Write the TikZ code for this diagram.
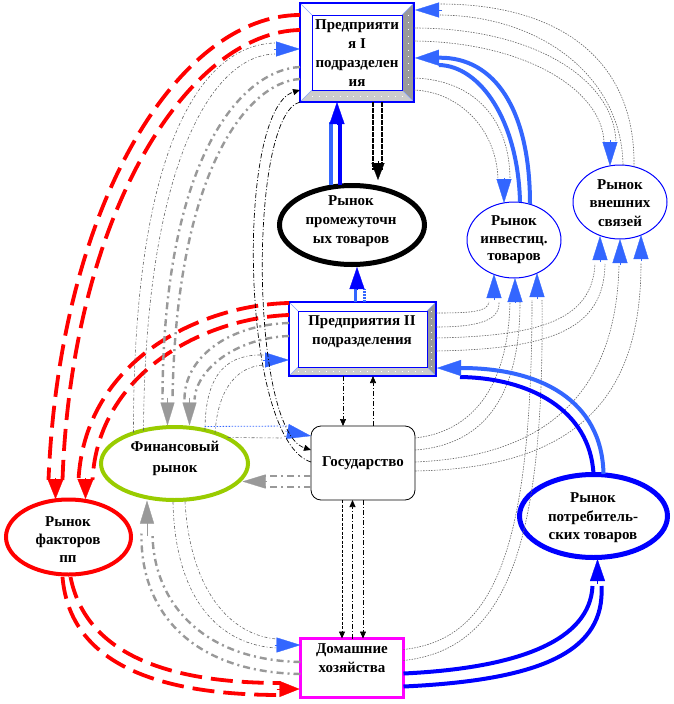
\documentclass[tikz,border=0pt]{standalone}
\usepackage{fontspec}
\setmainfont{Liberation Serif}
\usetikzlibrary{arrows.meta,calc,shapes.geometric}
\definecolor{cbl}{HTML}{3366FF}
\definecolor{cdbl}{HTML}{0000FF}
\definecolor{crd}{HTML}{FF0000}
\definecolor{cgr}{HTML}{999999}
\definecolor{cdg}{HTML}{666666}
\definecolor{cgrn}{HTML}{99CC00}
\definecolor{cmag}{HTML}{FF00FF}
\definecolor{cbev}{HTML}{999999}
\definecolor{cbevb}{HTML}{CCCCCC}
\newcommand\mybevel[2]{%
 \fill[white] (#1.north west) -- (#1.north east) -- ($(#1.north east)+(-#2,#2)$) -- ($(#1.north west)+(#2,#2)$) -- cycle;
 \fill[cbev] (#1.north east) -- (#1.south east) -- ($(#1.south east)+(-#2,-#2)$) -- ($(#1.north east)+(-#2,#2)$) -- cycle;
 \fill[cbevb] (#1.south west) -- (#1.south east) -- ($(#1.south east)+(-#2,-#2)$) -- ($(#1.south west)+(#2,-#2)$) -- cycle;
 \draw[white, line width=.9pt, dash pattern=on .9pt off 6pt] ($(#1.south west)+(#2,-#2/2)$) -- ($(#1.south east)+(-#2,-#2/2)$);
 \draw[white, line width=.9pt, dash pattern=on .9pt off 6pt] ($(#1.north east)+(-#2/2,#2)$) -- ($(#1.south east)+(-#2/2,-#2)$);
 \draw[cbl!60, line width=.5pt] (#1.north west) -- ($(#1.north west)+(#2,#2)$) (#1.north east) -- ($(#1.north east)+(-#2,#2)$) (#1.south west) -- ($(#1.south west)+(#2,-#2)$) (#1.south east) -- ($(#1.south east)+(-#2,-#2)$);
 \draw[cdbl, line width=1pt] ($(#1.north west)+(#2,#2)$) rectangle ($(#1.south east)+(-#2,-#2)$);
 \draw[cdbl, line width=1.2pt] (#1.north west) rectangle (#1.south east);
}
\tikzset{
 pbox/.style={rectangle, draw=cdbl, line width=1pt, inner sep=0pt, outer sep=0pt, fill=white},
 ellp/.style={ellipse, inner sep=0pt, outer sep=0pt},
 lbl/.style={font=\bfseries\fontsize{15}{19}\selectfont, align=center, inner sep=0pt},
 thinln/.style={draw=cdg, line width=0.6pt, dash pattern=on 1.5pt off 1.2pt},
 tdd/.style={draw=cdg, line width=0.6pt, dash pattern=on 3pt off 2pt on 1pt off 2pt},
 gthick/.style={draw=cgr, line width=2.4pt, dash pattern=on 7pt off 4pt on 2pt off 4pt},
 rdash/.style={draw=crd, line width=3.8pt, dash pattern=on 22pt off 9pt},
 bdd/.style={draw=black, line width=0.7pt, dash pattern=on 5pt off 2pt on 1pt off 2pt},
 bdash/.style={draw=black, line width=0.8pt, dash pattern=on 3pt off 1.5pt},
 bthick/.style={draw=black, line width=1.6pt, dash pattern=on 5pt off 1pt},
 stip/.style={-{Triangle[length=7pt,width=6pt]}},
 hbl/.style={draw=cbl, line width=.3pt, -{Triangle[length=24pt,width=15pt,line width=.3pt]}},
 hdbl/.style={draw=cdbl, line width=.3pt, -{Triangle[length=22pt,width=15pt,line width=.3pt]}},
 hrd/.style={draw=crd, line width=.3pt, -{Triangle[length=20pt,width=16pt,line width=.3pt]}},
 hgr/.style={draw=cgr, line width=.3pt, -{Triangle[length=23pt,width=14pt,line width=.3pt]}},
 hblk/.style={draw=black, line width=.3pt, -{Triangle[length=17pt,width=13pt,line width=.3pt]}},
 lbthick/.style={draw=cbl, line width=4pt},
 dbthick/.style={draw=cdbl, line width=4pt},
}
\begin{document}
\begin{tikzpicture}[x=1pt,y=-1pt]
\useasboundingbox (0,0) rectangle (673,704);
\fill[white] (0,0) rectangle (673,704);
% ---------- nodes ----------
\node[pbox, minimum width=114pt, minimum height=99pt] (P1) at (357,52.5) {};
\mybevel{P1}{12}
\node[lbl] (P1t) at (357,53) {Предприяти\\я I\\подразделен\\ия};
\node[pbox, minimum width=147pt, minimum height=74pt] (P2) at (362.5,339) {};
\mybevel{P2}{9}
\node[lbl] (P2t) at (362,332) {Предприятия II\\подразделения};
\node[ellp, draw=black, line width=5pt, minimum width=145pt, minimum height=79pt] (M) at (352,225) {};
\node[lbl] (Mt) at (351,221) {Рынок\\промежуточн\\ых товаров};
\node[ellp, draw=cdbl, line width=1pt, minimum width=94pt, minimum height=76pt] (I) at (514,240) {};
\node[lbl, font=\bfseries\fontsize{15}{17.5}\selectfont] (It) at (514,240) {Рынок\\инвестиц.\\товаров};
\node[ellp, draw=cdbl, line width=1pt, minimum width=94pt, minimum height=74pt] (E) at (620,202) {};
\node[lbl, font=\bfseries\fontsize{15}{18.5}\selectfont] (Et) at (620,203) {Рынок\\внешних\\связей};
\node[ellp, draw=cgrn, line width=4pt, minimum width=147pt, minimum height=73pt] (F) at (174.5,463.5) {};
\node[lbl, font=\bfseries\fontsize{15}{21}\selectfont] (Ft) at (175,458) {Финансовый\\рынок};
\node[rectangle, rounded corners=10pt, draw=black, line width=.8pt, fill=white, inner sep=0pt, outer sep=0pt, minimum width=104pt, minimum height=74pt] (G) at (363,463) {};
\node[lbl] (Gt) at (363,463) {Государство};
\node[ellp, draw=crd, line width=4pt, minimum width=125pt, minimum height=75pt] (R) at (68.5,537) {};
\node[lbl, font=\bfseries\fontsize{15}{18}\selectfont] (Rt) at (68,540) {Рынок\\факторов\\пп};
\node[ellp, draw=cdbl, line width=5pt, minimum width=148pt, minimum height=83pt] (C) at (593.5,516) {};
\node[lbl, font=\bfseries\fontsize{15}{18.5}\selectfont] (Ct) at (593,518) {Рынок\\потребитель-\\ских товаров};
\node[rectangle, draw=cmag, line width=3pt, fill=white, inner sep=0pt, outer sep=0pt, minimum width=103pt, minimum height=59pt] (H) at (352,668) {};
\node[lbl] (Ht) at (352,658) {Домашние\\хозяйства};
% ---------- P1 <-> M ----------
\draw[bthick] ($(P1.south west)+(73,0)$) -- ($(M.center)+(21,-55)$);
\draw[bthick] ($(P1.south west)+(82,0)$) -- ($(M.center)+(30,-55)$);
\draw[hblk] ($(M.center)+(26,-64)$) -- ($(M.center)+(26,-45)$);
\draw[lbthick] ($(M.center)+(-21,-40)$) -- ($(P1.south west)+(31,20)$);
\draw[dbthick] ($(M.center)+(-12,-40)$) -- ($(P1.south west)+(40,20)$);
\draw[hdbl] ($(P1.south west)+(37,23)$) -- ($(P1.south west)+(37,0)$);
% ---------- P2 -> M ----------
\draw[draw=cbl, line width=3pt] ($(P2.north west)+(66,0)$) -- ($(M.center)+(3,64)$);
\draw[draw=cbl, line width=3pt, dash pattern=on 2pt off 1pt] ($(P2.north west)+(75,0)$) -- ($(M.center)+(12,64)$);
\draw[hdbl] ($(M.center)+(5,65)$) -- ($(M.center)+(5,42)$);
% ---------- I -> P1 (thick light blue) ----------
\draw[lbthick, -{Triangle[length=24pt,width=16pt,line width=.3pt]}] ($(I.center)+(16,-36)$) .. controls (530,110) and (495,57) .. ($(P1.north east)+(1,55)$);
\draw[lbthick] ($(I.center)+(6,-38)$) .. controls (518,120) and (480,66) .. ($(P1.north east)+(25,62)$);
% ---------- P1 -> I (thin) ----------
\draw[thinln] ($(P1.north east)+(0,75)$) .. controls (475,80) and (510,120) .. ($(I.center)+(-4,-60)$);
\draw[thinln] ($(P1.north east)+(0,87)$) .. controls (460,92) and (497,130) .. ($(I.center)+(-16,-60)$);
\draw[hbl] ($(I.center)+(-10,-62)$) -- ($(I.center)+(-10,-37)$);
% ---------- P1 -> E (thin) ----------
\draw[thinln] ($(P1.north east)+(0,25)$) .. controls (535,28) and (614,80) .. ($(E.center)+(-4,-60)$);
\draw[thinln] ($(P1.north east)+(0,38)$) .. controls (525,42) and (602,90) .. ($(E.center)+(-16,-60)$);
\draw[hbl] ($(E.center)+(-10,-62)$) -- ($(E.center)+(-10,-36)$);
% ---------- E -> P1 (thin) ----------
\draw[thinln] ($(E.center)+(3,-37)$) .. controls (622,80) and (545,16) .. ($(P1.north east)+(26,12)$);
\draw[thinln] ($(E.center)+(14,-35)$) .. controls (636,60) and (560,4) .. ($(P1.north east)+(26,1)$);
\draw[hbl] ($(P1.north east)+(28,7)$) -- ($(P1.north east)+(1,7)$);
% ---------- to I bottom ----------
\draw[thinln] ($(P2.north east)+(0,11)$) .. controls (470,313) and (488,312) .. ($(I.center)+(-25,62)$);
\draw[thinln] ($(P2.north east)+(0,25)$) .. controls (480,327) and (500,320) .. ($(I.center)+(-15,62)$);
\draw[hbl] ($(I.center)+(-20,60)$) -- ($(I.center)+(-20,34)$);
\draw[thinln] ($(G.north east)+(0,12)$) .. controls (470,432) and (508,390) .. ($(I.center)+(-4,62)$);
\draw[thinln] ($(G.north east)+(0,24)$) .. controls (485,445) and (520,395) .. ($(I.center)+(6,62)$);
\draw[hbl] ($(I.center)+(1,62)$) -- ($(I.center)+(1,38)$);
\draw[thinln] ($(H.north east)+(0,11)$) .. controls (490,640) and (532,560) .. ($(I.center)+(18,60)$);
\draw[thinln] ($(H.north east)+(0,22)$) .. controls (500,650) and (545,560) .. ($(I.center)+(28,60)$);
\draw[hbl] ($(I.center)+(23,59)$) -- ($(I.center)+(23,33)$);
% ---------- to E bottom ----------
\draw[thinln] ($(P2.north east)+(0,36)$) .. controls (540,336) and (592,320) .. ($(E.center)+(-25,62)$);
\draw[thinln] ($(P2.north east)+(0,49)$) .. controls (550,349) and (604,330) .. ($(E.center)+(-15,62)$);
\draw[hbl] ($(E.center)+(-20,60)$) -- ($(E.center)+(-20,34)$);
\draw[thinln] ($(G.north east)+(0,36)$) .. controls (560,456) and (616,380) .. ($(E.center)+(-1,64)$);
\draw[hbl] ($(E.center)+(0,63)$) -- ($(E.center)+(0,37)$);
\draw[thinln] ($(G.north east)+(0,45)$) .. controls (585,468) and (641,390) .. ($(E.center)+(21,61)$);
\draw[hbl] ($(E.center)+(21,59)$) -- ($(E.center)+(21,33)$);
% ---------- C -> P2 ----------
\draw[dbthick] ($(C.center)+(0,-42)$) .. controls (590,410) and (530,378) .. ($(P2.south east)+(24,1)$);
\draw[lbthick, -{Triangle[length=24pt,width=16pt,line width=.3pt]}] ($(C.center)+(10,-42)$) .. controls (602,400) and (540,368) .. ($(P2.south east)+(1,-8)$);
% ---------- H -> C ----------
\draw[dbthick] ($(H.north east)+(0,35)$) .. controls (520,668) and (590,640) .. ($(C.center)+(-1,70)$);
\draw[dbthick] ($(H.north east)+(0,48)$) .. controls (545,680) and (605,650) .. ($(C.center)+(8,70)$);
\draw[hdbl] ($(C.center)+(4,68)$) -- ($(C.center)+(4,43)$);
% ---------- red ----------
\draw[rdash] ($(P1.north west)+(0,12)$) .. controls (180,15) and (60,200) .. ($(R.center)+(-20,-57)$);
\draw[rdash] ($(P1.north west)+(0,27)$) .. controls (190,32) and (72,210) .. ($(R.center)+(-6,-57)$);
\draw[hrd] ($(R.center)+(-13,-59)$) -- ($(R.center)+(-13,-38)$);
\draw[rdash] ($(P2.north west)+(0,1)$) .. controls (200,305) and (85,360) .. ($(R.center)+(10,-57)$);
\draw[rdash] ($(P2.north west)+(0,13)$) .. controls (205,318) and (98,372) .. ($(R.center)+(24,-57)$);
\draw[hrd] ($(R.center)+(17,-59)$) -- ($(R.center)+(17,-38)$);
\draw[rdash] ($(R.center)+(-6,40)$) .. controls (70,665) and (160,695) .. ($(H.west)+(-20,27)$);
\draw[rdash] ($(R.center)+(2,40)$) .. controls (85,650) and (160,683) .. ($(H.west)+(-20,15)$);
\draw[hrd] ($(H.west)+(-24,21)$) -- ($(H.west)+(-1,21)$);
% ---------- gray thick to F top ----------
\draw[gthick] ($(P1.north west)+(0,64)$) .. controls (240,70) and (163,160) .. ($(F.center)+(-12,-64)$);
\draw[gthick] ($(P1.north west)+(0,76)$) .. controls (248,82) and (176,170) .. ($(F.center)+(-2,-64)$);
\draw[hgr] ($(F.center)+(-7,-66)$) -- ($(F.center)+(-7,-38)$);
\draw[gthick] ($(P2.north west)+(0,21)$) .. controls (225,325) and (184,360) .. ($(F.center)+(10,-64)$);
\draw[gthick] ($(P2.north west)+(0,34)$) .. controls (235,338) and (196,370) .. ($(F.center)+(20,-64)$);
\draw[hgr] ($(F.center)+(15,-66)$) -- ($(F.center)+(15,-38)$);
% ---------- thin F -> P1, F -> P2 ----------
\draw[tdd] ($(F.center)+(-41,-31)$) .. controls (133,150) and (200,45) .. ($(P1.north west)+(-25,40)$);
\draw[tdd] ($(F.center)+(-31,-33)$) .. controls (145,170) and (210,55) .. ($(P1.north west)+(-25,51)$);
\draw[hbl] ($(P1.north west)+(-26,46)$) -- ($(P1.north west)+(0,46)$);
\draw[tdd] ($(F.center)+(30.5,-33)$) .. controls (205,370) and (230,354) .. ($(P2.south west)+(-25,-21)$);
\draw[tdd] ($(F.center)+(40.5,-30)$) .. controls (218,385) and (240,366) .. ($(P2.south west)+(-25,-11)$);
\draw[hbl] ($(P2.south west)+(-26,-16)$) -- ($(P2.south west)+(0,-16)$);
% ---------- F <-> G ----------
\draw[draw=cbl, line width=.8pt, dash pattern=on 1.5pt off 1.5pt] ($(F.center)+(30,-37)$) -- ($(G.north west)+(-20,0)$);
\draw[tdd] ($(F.center)+(53,-26)$) -- ($(G.north west)+(-28,12)$);
\draw[hbl] ($(G.north west)+(-26,5)$) -- ($(G.north west)+(0,10)$);
\draw[gthick] ($(G.north west)+(0,50)$) -- ($(F.center)+(88,12.5)$);
\draw[gthick] ($(G.north west)+(0,61)$) -- ($(F.center)+(88,23.5)$);
\draw[hgr] ($(F.center)+(92,18)$) -- ($(F.center)+(68,18)$);
% ---------- F <-> H ----------
\draw[tdd] ($(F.center)+(-1.5,38.5)$) .. controls (175,600) and (220,645) .. ($(H.west)+(-24,-20)$);
\draw[tdd] ($(F.center)+(10.5,38)$) .. controls (190,590) and (230,635) .. ($(H.west)+(-24,-29)$);
\draw[hbl] ($(H.west)+(-26,-23)$) -- ($(H.west)+(0,-23)$);
\draw[gthick] ($(H.west)+(0,-6)$) .. controls (200,660) and (153,600) .. ($(F.center)+(-22,70)$);
\draw[gthick] ($(H.west)+(0,6)$) .. controls (190,672) and (140,610) .. ($(F.center)+(-33,70)$);
\draw[hgr] ($(F.center)+(-27.5,72)$) -- ($(F.center)+(-27.5,37)$);
% ---------- black P1 <-> G ----------
\draw[bdd, stip] ($(G.north west)+(0,36)$) .. controls (240,440) and (235,110) .. ($(P1.south west)+(0,-12)$);
\draw[bdd, stip] (P1.south west) .. controls (248,115) and (250,430) .. ($(G.north west)+(0,24)$);
% ---------- P2 <-> G ----------
\draw[bdd, stip] ($(P2.south west)+(54,0)$) -- ($(G.north west)+(32,0)$);
\draw[bdd, stip] ($(G.north west)+(62,0)$) -- ($(P2.south west)+(84,0)$);
% ---------- G <-> H ----------
\draw[bdash, stip] ($(G.south west)+(31,0)$) -- ($(H.north west)+(41.5,0)$);
\draw[bdd, stip] ($(H.north west)+(52,0)$) -- ($(G.south west)+(41.5,0)$);
\draw[bdd, stip] ($(G.south west)+(52,0)$) -- ($(H.north west)+(62.5,0)$);
\end{tikzpicture}
\end{document}
